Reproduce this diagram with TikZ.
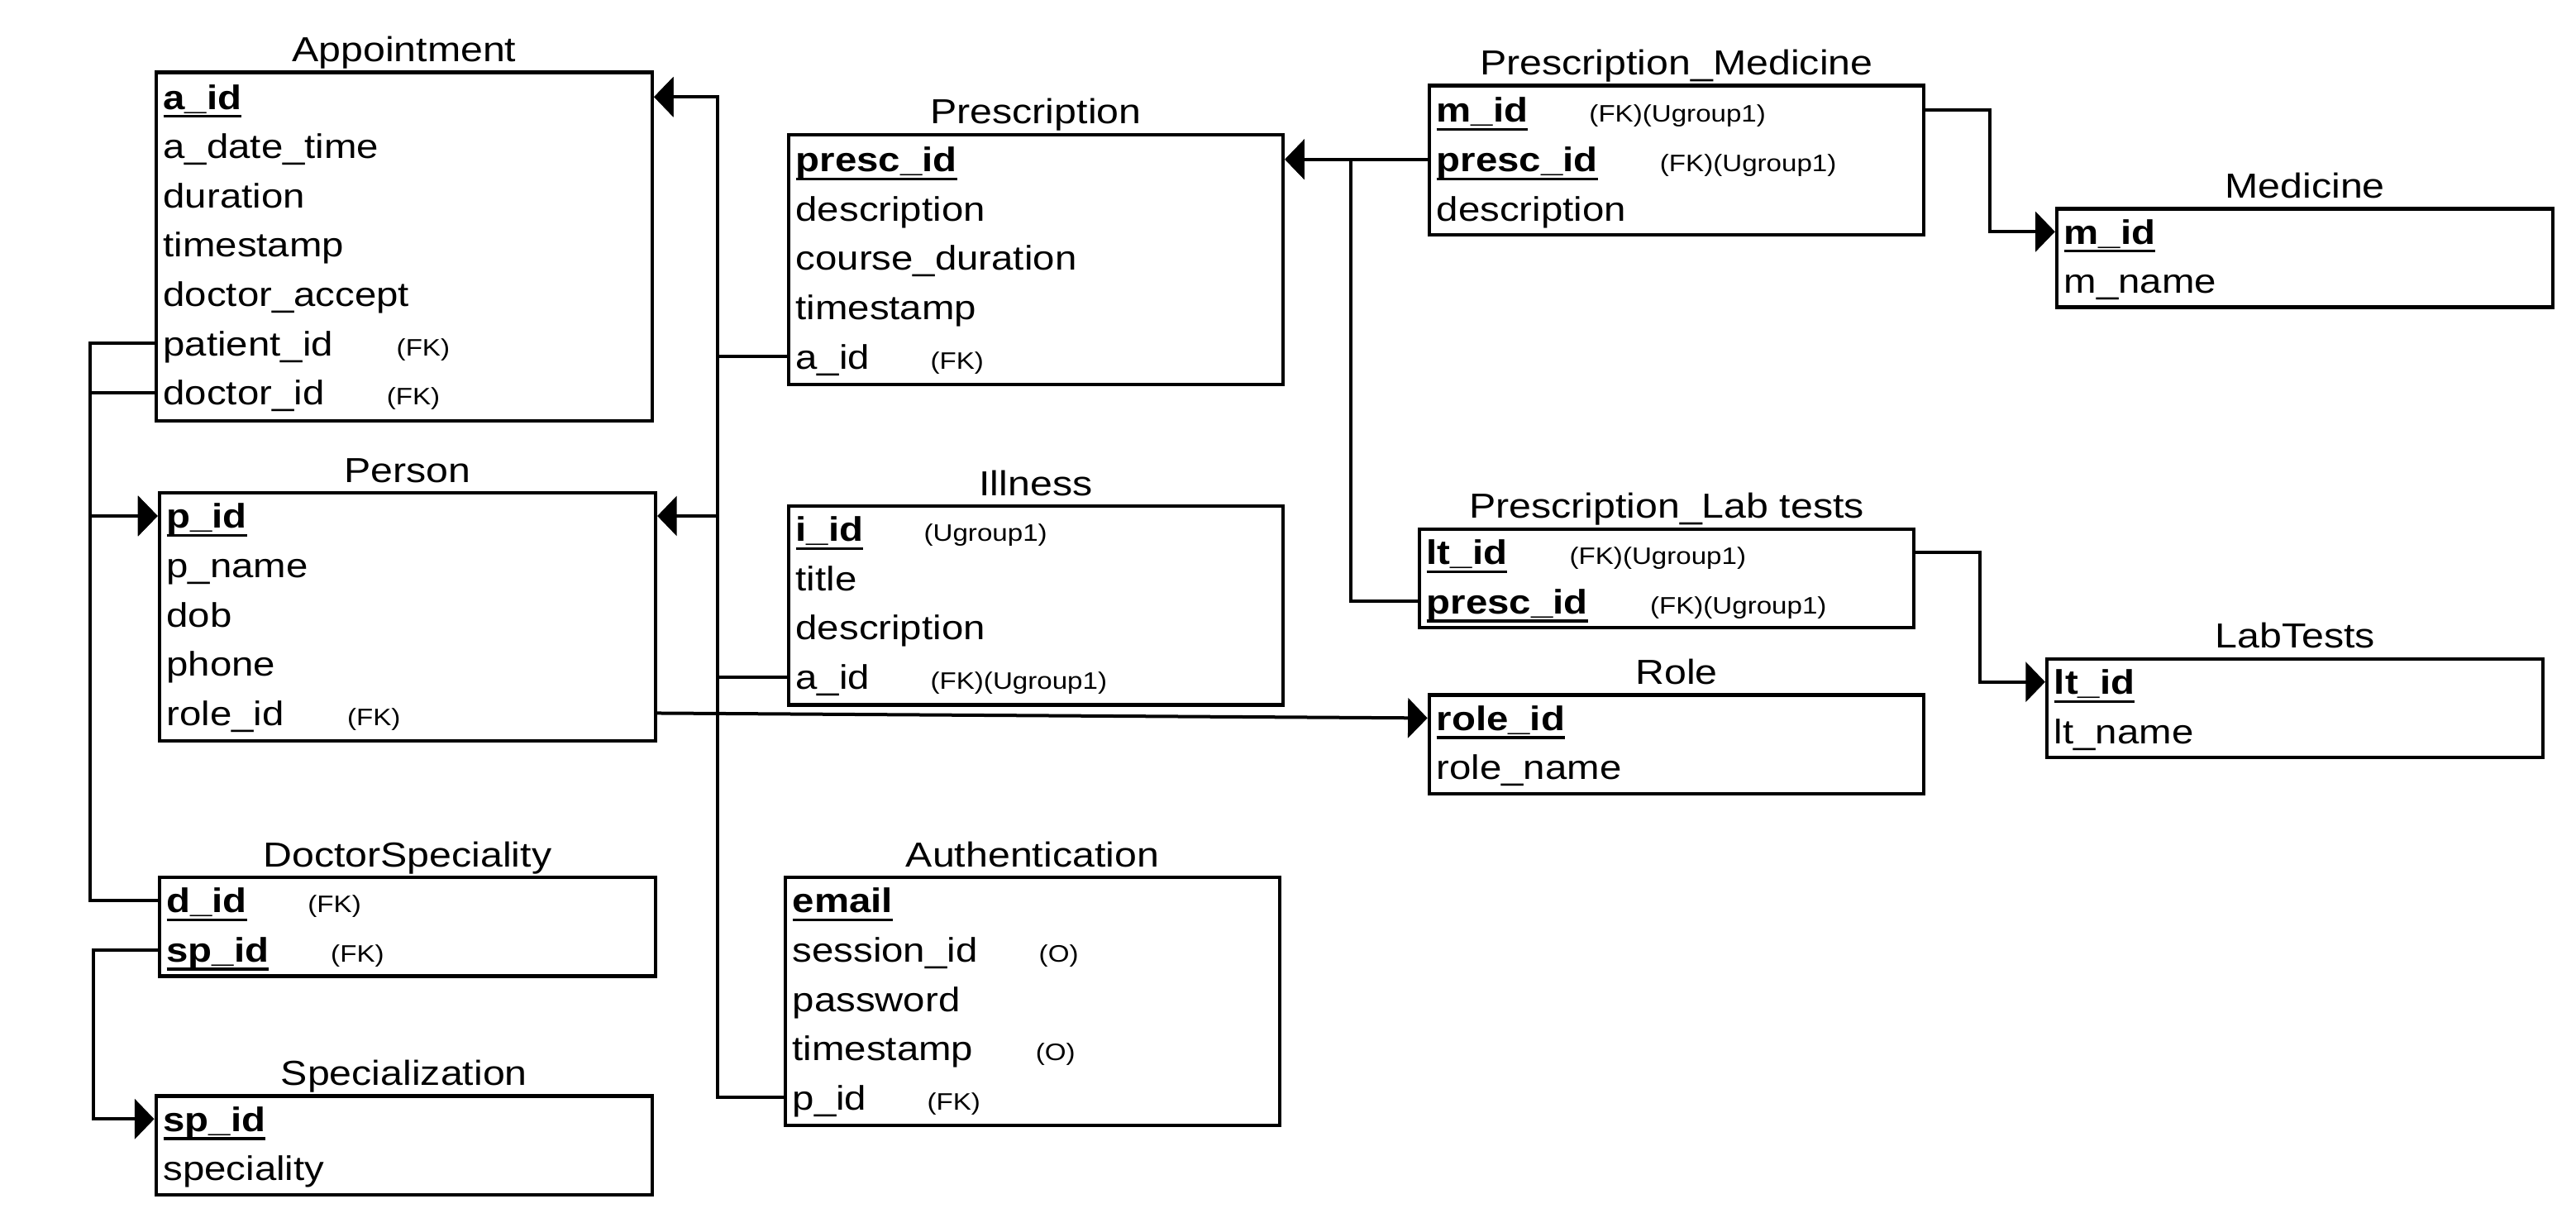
\documentclass[tikz,border=0pt]{standalone}
\usepackage{fontspec}
\setmainfont[FakeStretch=1.15]{Liberation Sans}
\usetikzlibrary{arrows.meta,fit}
\tikzset{
 tbl/.style={draw, line width=1.1pt, inner sep=0pt},
 ttl/.style={anchor=base, inner sep=0pt, font=\fontsize{10.5}{13}\selectfont, yshift=2.7pt},
 rowtxt/.style={anchor=west, inner sep=0pt, font=\fontsize{10.3}{13}\selectfont, text height=8pt, text depth=0.6pt},
 fk/.style={anchor=west, inner sep=0pt, font=\fontsize{7.2}{9}\selectfont, text height=8pt, text depth=0.6pt},
 conn/.style={line width=1pt, -{Triangle[length=5.9pt,width=12pt]}},
}
\newcommand\pk[1]{\sbox0{\textbf{#1}}\usebox0\llap{\rule[-2.6pt]{\wd0}{0.85pt}}}
\begin{document}
\begin{tikzpicture}[x=0.4968pt,y=-0.4968pt]
\fill[white] (0,0) rectangle (1568,741);
\useasboundingbox (0,0) rectangle (1568,741);

% ---------- Appointment
\node[tbl, fit={(95,44) (397,256)}] (appt) {};
\node[ttl] (appt-t) at (appt.north) {Appointment};
\node[rowtxt] (appt-1) at (99,59) {\pk{a\_id}};
\node[rowtxt] (appt-2) at (99,89) {a\_date\_time};
\node[rowtxt] (appt-3) at (99,119) {duration};
\node[rowtxt] (appt-4) at (99,149) {timestamp};
\node[rowtxt] (appt-5) at (99,179) {doctor\_accept};
\node[rowtxt] (appt-6) at (99,209) {patient\_id};
\node[fk] (appt-6f) at (241,209) {(FK)};
\node[rowtxt] (appt-7) at (99,239) {doctor\_id};
\node[fk] (appt-7f) at (235,239) {(FK)};

% ---------- Person
\node[tbl, fit={(97,300) (399,451)}] (per) {};
\node[ttl] (per-t) at (per.north) {Person};
\node[rowtxt] (per-1) at (101,314) {\pk{p\_id}};
\node[rowtxt] (per-2) at (101,344) {p\_name};
\node[rowtxt] (per-3) at (101,374) {dob};
\node[rowtxt] (per-4) at (101,404) {phone};
\node[rowtxt] (per-5) at (101,434) {role\_id};
\node[fk] (per-5f) at (211,434) {(FK)};

% ---------- DoctorSpeciality
\node[tbl, fit={(97,534) (399,594)}] (ds) {};
\node[ttl] (ds-t) at (ds.north) {DoctorSpeciality};
\node[rowtxt] (ds-1) at (101,548) {\pk{d\_id}};
\node[fk] (ds-1f) at (187,548) {(FK)};
\node[rowtxt] (ds-2) at (101,578) {\pk{sp\_id}};
\node[fk] (ds-2f) at (201,578) {(FK)};

% ---------- Specialization
\node[tbl, fit={(95,667) (397,727)}] (sp) {};
\node[ttl] (sp-t) at (sp.north) {Specialization};
\node[rowtxt] (sp-1) at (99,681) {\pk{sp\_id}};
\node[rowtxt] (sp-2) at (99,711) {speciality};

% ---------- Prescription
\node[tbl, fit={(480,82) (781,234)}] (pr) {};
\node[ttl] (pr-t) at (pr.north) {Prescription};
\node[rowtxt] (pr-1) at (484,97) {\pk{presc\_id}};
\node[rowtxt] (pr-2) at (484,127) {description};
\node[rowtxt] (pr-3) at (484,157) {course\_duration};
\node[rowtxt] (pr-4) at (484,187) {timestamp};
\node[rowtxt] (pr-5) at (484,217) {a\_id};
\node[fk] (pr-5f) at (566,217) {(FK)};

% ---------- Illness
\node[tbl, fit={(480,308) (781,429)}] (il) {};
\node[ttl] (il-t) at (il.north) {Illness};
\node[rowtxt] (il-1) at (484,322) {\pk{i\_id}};
\node[fk] (il-1f) at (562,322) {(Ugroup1)};
\node[rowtxt] (il-2) at (484,352) {title};
\node[rowtxt] (il-3) at (484,382) {description};
\node[rowtxt] (il-4) at (484,412) {a\_id};
\node[fk] (il-4f) at (566,412) {(FK)(Ugroup1)};

% ---------- Authentication
\node[tbl, fit={(478,534) (779,685)}] (au) {};
\node[ttl] (au-t) at (au.north) {Authentication};
\node[rowtxt] (au-1) at (482,548) {\pk{email}};
\node[rowtxt] (au-2) at (482,578) {session\_id};
\node[fk] (au-2f) at (632,578) {(O)};
\node[rowtxt] (au-3) at (482,608) {password};
\node[rowtxt] (au-4) at (482,638) {timestamp};
\node[fk] (au-4f) at (630,638) {(O)};
\node[rowtxt] (au-5) at (482,668) {p\_id};
\node[fk] (au-5f) at (564,668) {(FK)};

% ---------- Prescription_Medicine
\node[tbl, fit={(870,52) (1171,143)}] (pm) {};
\node[ttl] (pm-t) at (pm.north) {Prescription\_Medicine};
\node[rowtxt] (pm-1) at (874,67) {\pk{m\_id}};
\node[fk] (pm-1f) at (967,67) {(FK)(Ugroup1)};
\node[rowtxt] (pm-2) at (874,97) {\pk{presc\_id}};
\node[fk] (pm-2f) at (1010,97) {(FK)(Ugroup1)};
\node[rowtxt] (pm-3) at (874,127) {description};

% ---------- Medicine
\node[tbl, fit={(1252,127) (1554,187)}] (md) {};
\node[ttl] (md-t) at (md.north) {Medicine};
\node[rowtxt] (md-1) at (1256,141) {\pk{m\_id}};
\node[rowtxt] (md-2) at (1256,171) {m\_name};

% ---------- Prescription_Lab tests
\node[tbl, fit={(864,322) (1165,382)}] (pl) {};
\node[ttl] (pl-t) at (pl.north) {Prescription\_Lab tests};
\node[rowtxt] (pl-1) at (868,336) {\pk{lt\_id}};
\node[fk] (pl-1f) at (955,336) {(FK)(Ugroup1)};
\node[rowtxt] (pl-2) at (868,366) {\pk{presc\_id}};
\node[fk] (pl-2f) at (1004,366) {(FK)(Ugroup1)};

% ---------- Role
\node[tbl, fit={(870,423) (1171,483)}] (ro) {};
\node[ttl] (ro-t) at (ro.north) {Role};
\node[rowtxt] (ro-1) at (874,437) {\pk{role\_id}};
\node[rowtxt] (ro-2) at (874,467) {role\_name};

% ---------- LabTests
\node[tbl, fit={(1246,401) (1548,461)}] (lb) {};
\node[ttl] (lb-t) at (lb.north) {LabTests};
\node[rowtxt] (lb-1) at (1250,415) {\pk{lt\_id}};
\node[rowtxt] (lb-2) at (1250,445) {lt\_name};

% ---------- routing columns
\coordinate (vA) at (437,0);
\coordinate (vB) at (822,0);
\coordinate (vC) at (1211,0);
\coordinate (vD) at (1205,0);
\coordinate (vE) at (55,0);
\coordinate (vF) at (57,0);

% ---------- connectors
\draw[conn] (pr.west |- pr-5) -| (vA |- appt-1) -- (appt.east |- appt-1);
\draw[conn] (il.west |- il-4) -| (vA |- appt-1) -- (appt.east |- appt-1);
\draw[conn] (au.west |- au-5) -| (vA |- per-1) -- (per.east |- per-1);
\draw[conn] (pm.west |- pm-2) -- (pr.east |- pr-1);
\draw[conn] (pl.west |- pl-2) -| (vB |- pr-1) -- (pr.east |- pr-1);
\draw[conn] (pm.east |- pm-1) -| (vC |- md-1) -- (md.west |- md-1);
\draw[conn] (pl.east |- pl-1) -| (vD |- lb-1) -- (lb.west |- lb-1);
\draw[conn] (per.east |- per-5) -- (ro.west |- ro-1);
\draw[conn] (appt.west |- appt-6) -| (vE |- per-1) -- (per.west |- per-1);
\draw[conn] (appt.west |- appt-7) -| (vE |- per-1) -- (per.west |- per-1);
\draw[conn] (ds.west |- ds-1) -| (vE |- per-1) -- (per.west |- per-1);
\draw[conn] (ds.west |- ds-2) -| (vF |- sp-1) -- (sp.west |- sp-1);
\end{tikzpicture}
\end{document}
